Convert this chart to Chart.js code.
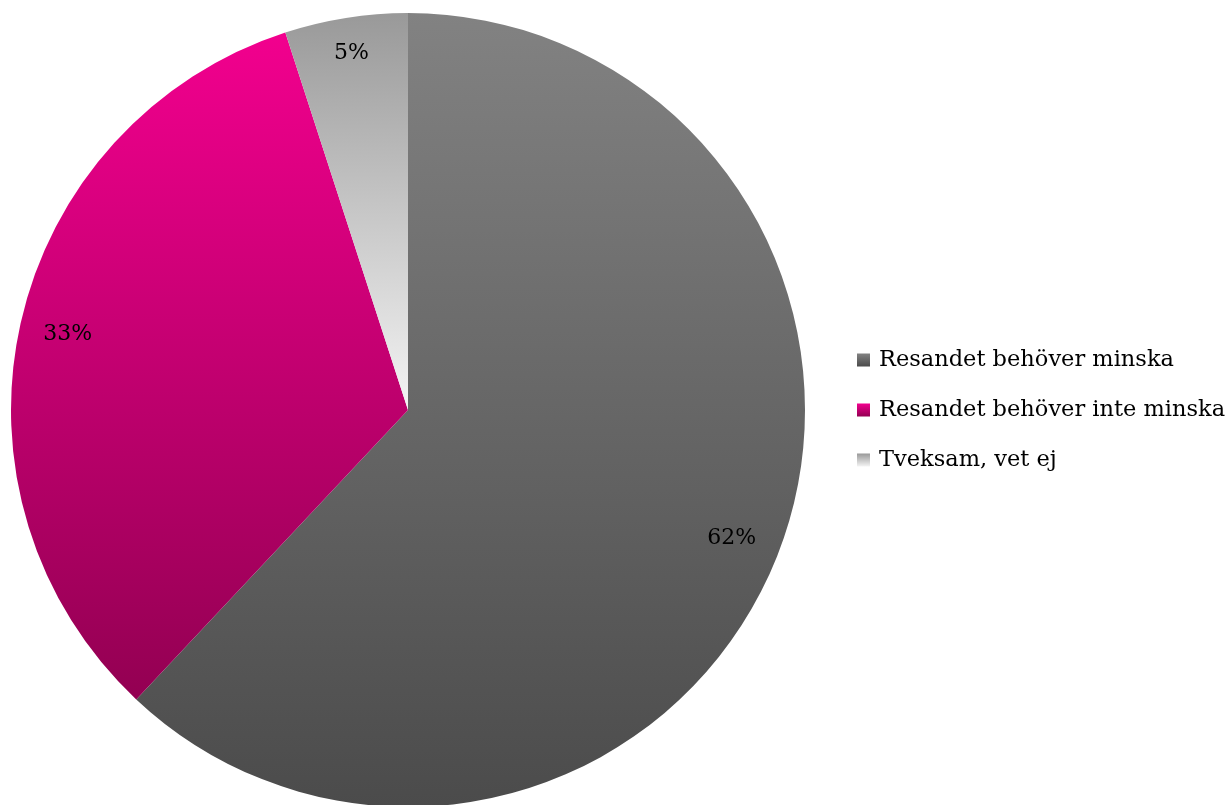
<!DOCTYPE html>
<html>
<head>
<meta charset="utf-8">
<script src="https://cdn.jsdelivr.net/npm/chart.js@4/dist/chart.umd.min.js"></script>
<style>
  html, body { margin: 0; padding: 0; background: #ffffff; }
  #wrap { width: 1231px; height: 805px; position: relative; }
</style>
</head>
<body>
<div id="wrap"><canvas id="c"></canvas></div>
<script>
// Answers to the question about travel
const categories = ['Resandet behöver minska', 'Resandet behöver inte minska', 'Tveksam, vet ej'];
const shares = [62, 33, 5];
const valueLabels = ['62%', '33%', '5%'];

// Vertical gradient stops for each slice (top colour, bottom colour)
const gradientTop = ['#828282', '#f2008e', '#999999'];
const gradientBottom = ['#4b4b4b', '#930052', '#f4f4f4'];

const FONT_FAMILY = '"DejaVu Serif", "Liberation Serif", serif';

// Vertical extent of a pie sector (angles in Chart.js radians, 0 = 3 o'clock)
function sectorYRange(cy, r, a0, a1) {
  let minY = cy, maxY = cy;
  const pts = [a0, a1];
  for (let k = -4; k <= 4; k++) {
    const a = -Math.PI / 2 + k * Math.PI;
    if (a > a0 && a < a1) pts.push(a);
  }
  pts.forEach(a => {
    const y = cy + r * Math.sin(a);
    minY = Math.min(minY, y);
    maxY = Math.max(maxY, y);
  });
  return [minY, maxY];
}

// Give every slice a top-to-bottom gradient spanning its own height
const sliceGradients = {
  id: 'sliceGradients',
  beforeDatasetsDraw(chart) {
    const ctx = chart.ctx;
    chart.getDatasetMeta(0).data.forEach((arc, i) => {
      const p = arc.getProps(['x', 'y', 'startAngle', 'endAngle', 'outerRadius'], true);
      const [y0, y1] = sectorYRange(p.y, p.outerRadius, p.startAngle, p.endAngle);
      const g = ctx.createLinearGradient(0, y0, 0, y1);
      g.addColorStop(0, gradientTop[i]);
      g.addColorStop(1, gradientBottom[i]);
      arc.options.backgroundColor = g;
    });
  }
};

// Percentage labels placed just inside the rim of each slice
const sliceLabels = {
  id: 'sliceLabels',
  afterDatasetsDraw(chart) {
    const ctx = chart.ctx;
    const meta = chart.getDatasetMeta(0);
    ctx.save();
    ctx.font = '22px ' + FONT_FAMILY;
    ctx.fillStyle = '#000000';
    ctx.textAlign = 'center';
    ctx.textBaseline = 'middle';
    meta.data.forEach((arc, i) => {
      const p = arc.getProps(['x', 'y', 'startAngle', 'endAngle', 'outerRadius'], true);
      const mid = (p.startAngle + p.endAngle) / 2;
      const txt = valueLabels[i];
      const w = ctx.measureText(txt).width;
      const h = 22;
      const dx = Math.cos(mid), dy = Math.sin(mid);
      const extent = Math.abs(dx) * w / 2 + Math.abs(dy) * h / 2;
      const r = p.outerRadius - extent - 22;
      ctx.fillText(txt, p.x + dx * r, p.y + dy * r);
    });
    ctx.restore();
  }
};

// Legend on the right with gradient swatches
const sideLegend = {
  id: 'sideLegend',
  afterDraw(chart) {
    const ctx = chart.ctx;
    const x0 = 857, box = 13, textX = 879, firstY = 360, step = 50;
    ctx.save();
    ctx.font = '22.5px ' + FONT_FAMILY;
    ctx.textBaseline = 'middle';
    ctx.textAlign = 'left';
    chart.data.labels.forEach((lab, i) => {
      const cy = firstY + i * step;
      const g = ctx.createLinearGradient(0, cy - box / 2, 0, cy + box / 2);
      g.addColorStop(0, gradientTop[i]);
      g.addColorStop(1, gradientBottom[i]);
      ctx.fillStyle = g;
      ctx.fillRect(x0, cy - box / 2, box, box);
      ctx.fillStyle = '#000000';
      ctx.fillText(lab, textX, cy);
    });
    ctx.restore();
  }
};

new Chart(document.getElementById('c'), {
  type: 'pie',
  data: {
    labels: categories,
    datasets: [{
      data: shares,
      backgroundColor: gradientTop,
      borderWidth: 0,
      hoverOffset: 0
    }]
  },
  options: {
    responsive: true,
    maintainAspectRatio: false,
    animation: false,
    radius: 397,
    layout: { padding: { top: 15, bottom: 0, left: 0, right: 415 } },
    plugins: {
      legend: { display: false },
      tooltip: { enabled: false }
    }
  },
  plugins: [sliceGradients, sliceLabels, sideLegend]
});
</script>
</body>
</html>
